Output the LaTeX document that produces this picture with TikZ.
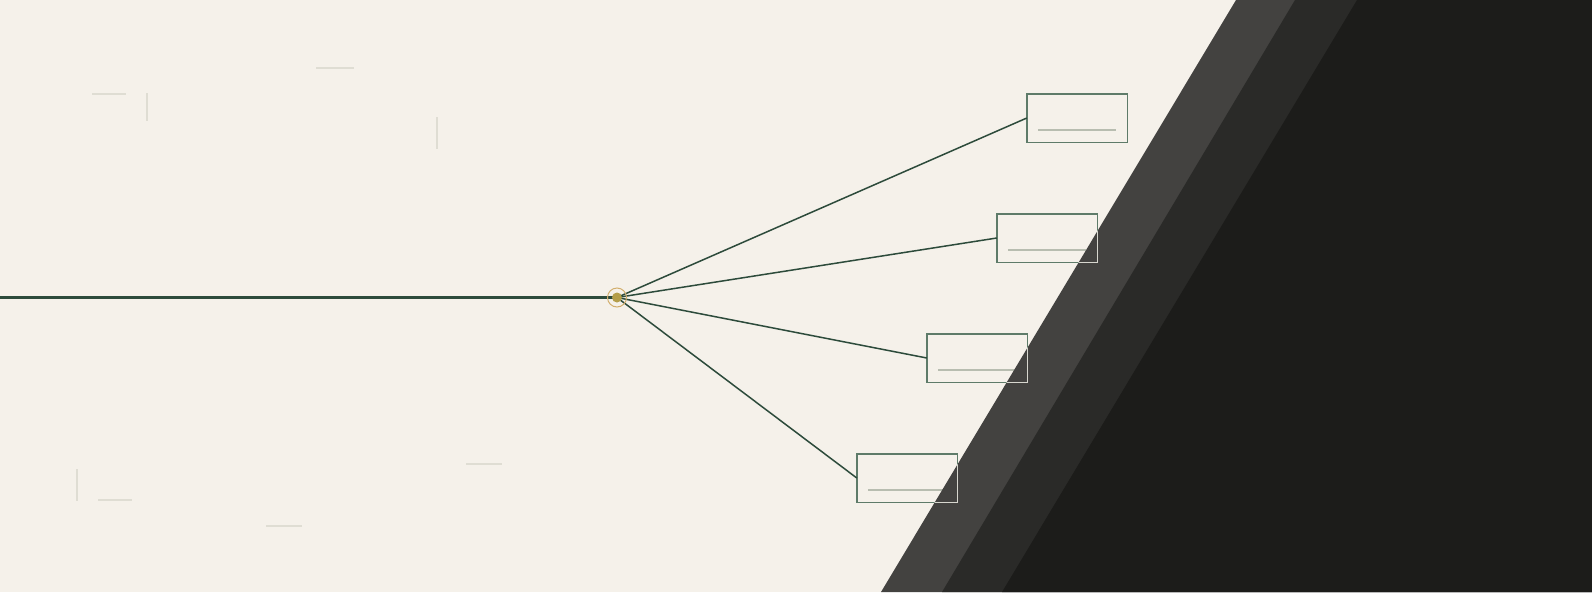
\documentclass[tikz,border=0pt]{standalone}
\begin{document}
\begin{tikzpicture}[x=1pt,y=-1pt,
  conn/.style={draw=linegreen,line width=1.5pt},
  boxnode/.style={rectangle,minimum width=100pt,minimum height=48pt,inner sep=0pt},
  faint/.style={draw=faintc,line width=1.5pt},
  innerl/.style={draw=innerc,line width=1.5pt}]
\definecolor{bgc}{HTML}{F5F1EA}
\definecolor{linegreen}{HTML}{2D4B3B}
\definecolor{boxc}{HTML}{5E7B69}
\definecolor{innerc}{HTML}{B8BDB0}
\definecolor{faintc}{HTML}{DFDDD3}
\definecolor{bandA}{HTML}{434240}
\definecolor{bandB}{HTML}{2A2A28}
\definecolor{bandC}{HTML}{1C1C1A}
\definecolor{ringc}{HTML}{D2AE6C}
\definecolor{dotc}{HTML}{B49E4A}
\definecolor{lightb}{HTML}{D6D6CE}
\useasboundingbox (0,0) rectangle (1592,592);
\fill[bgc] (0,0) rectangle (1592,592);
% faint marks
\draw[faint] (92,94) -- (126,94);
\draw[faint] (147,93) -- (147,121);
\draw[faint] (316,68) -- (354,68);
\draw[faint] (437,117) -- (437,149);
\draw[faint] (77,469) -- (77,501);
\draw[faint] (98,500) -- (132,500);
\draw[faint] (266,526) -- (302,526);
\draw[faint] (466,464) -- (502,464);
% boxes (positions)
\node[boxnode] (b1) at (1077,118) {};
\node[boxnode] (b2) at (1047,238) {};
\node[boxnode] (b3) at (977,358) {};
\node[boxnode] (b4) at (907,478) {};
% inner lines
\foreach \b in {b1,b2,b3,b4}{
  \draw[innerl] ([xshift=11pt,yshift=-12pt]\b.west) -- ([xshift=-11pt,yshift=-12pt]\b.east);
}
% bands
\fill[bandA] (1236,0) -- (1592,0) -- (1592,592) -- (881,592) -- cycle;
\fill[bandB] (1295,0) -- (1592,0) -- (1592,592) -- (942,592) -- cycle;
\fill[bandC] (1357,0) -- (1592,0) -- (1592,592) -- (1002,592) -- cycle;
% box borders
\begin{scope}
\clip (0,0) -- (1236,0) -- (881,592) -- (0,592) -- cycle;
\foreach \b in {b1,b2,b3,b4}{\draw[boxc,line width=1.4pt] (\b.south west) rectangle (\b.north east);}
\end{scope}
\begin{scope}
\clip (1236,0) -- (1592,0) -- (1592,592) -- (881,592) -- cycle;
\foreach \b in {b1,b2,b3,b4}{\draw[lightb,line width=1.4pt] (\b.south west) rectangle (\b.north east);}
\end{scope}
% hub
\coordinate (start) at (0,297.5);
\node[circle,inner sep=0pt,minimum size=10pt] (hub) at (617,297.5) {};
\draw[linegreen,line width=2.5pt] (start) -- (hub.center);
\foreach \b in {b1,b2,b3,b4}{\draw[conn] (hub.center) -- (\b.west);}
\draw[ringc,line width=1pt] (hub.center) circle (9.5pt);
\fill[dotc] (hub.center) circle (5pt);
\end{tikzpicture}
\end{document}
